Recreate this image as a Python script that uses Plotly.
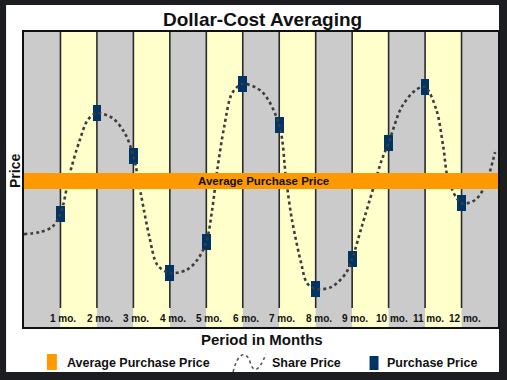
import plotly.graph_objects as go

# ---------------- data ----------------
months = list(range(1, 13))
month_labels = ["1 mo.", "2 mo.", "3 mo.", "4 mo.", "5 mo.", "6 mo.",
                "7 mo.", "8 mo.", "9 mo.", "10 mo.", "11 mo.", "12 mo."]
purchase_prices = [38.3, 72.5, 58.0, 18.3, 28.8, 82.4, 68.5, 12.9, 23.1, 62.4, 81.4, 42.0]
average_price = 49.5
share_x = [0.0, 0.44, 0.77, 1.0, 1.26, 1.53, 1.75, 2.0, 2.43, 2.76, 3.0, 3.22, 3.44, 3.66,
           4.0, 4.45, 4.75, 5.0, 5.16, 5.3, 5.49, 5.71, 6.0, 6.53, 7.0, 7.19, 7.35, 7.6,
           7.76, 8.0, 8.44, 8.83, 9.0, 9.26, 9.59, 9.81, 10.0, 10.36, 10.74, 11.0, 11.31,
           11.5, 11.64, 12.0, 12.38, 12.65, 12.92]
share_y = [31.5, 32.2, 33.9, 38.3, 52.2, 63.4, 70.2, 72.5, 70.8, 65.8, 58.0, 44.1, 30.5, 21.0,
           18.3, 19.3, 22.7, 28.8, 39.7, 53.2, 67.8, 79.3, 82.4, 79.7, 68.5, 49.8, 36.3, 21.7,
           14.9, 12.9, 13.6, 18.3, 23.1, 33.9, 47.5, 56.6, 62.4, 74.6, 80.3, 81.4, 73.6,
           61.0, 49.8, 42.0, 43.1, 48.1, 59.3]
n_columns = 13

# ---------------- style ----------------
W, H = 507, 380
ML, MR, MT, MB = 24, 7, 32, 53
PW, PH = W - ML - MR, H - MT - MB
FONT = "Liberation Sans"
ORANGE = "#ff9900"
NAVY = "#003366"
GRAY = "#cbcbcb"
YELLOW = "#ffffcc"
DARK = "#1b1d20"
Y_MAX = 100.0
MARK_W = 0.24
MARK_H = 5.2


def px(x):
    return (x - ML) / PW


def py(y):
    return (H - MB - y) / PH


fig = go.Figure()

# share price curve (dotted)
fig.add_trace(go.Scatter(
    x=share_x, y=share_y, mode="lines",
    line=dict(color="#3c3c3c", width=2.6, dash="dot", shape="spline", smoothing=0.9),
    hoverinfo="skip", showlegend=False, name="Share Price"))

# average purchase price band
fig.add_trace(go.Scatter(
    x=[0, n_columns], y=[average_price, average_price], mode="lines",
    line=dict(color=ORANGE, width=16), showlegend=False, name="Average Purchase Price"))

# purchase price markers
fig.add_trace(go.Bar(
    x=months, y=[MARK_H] * len(months),
    base=[p - MARK_H / 2 for p in purchase_prices],
    width=MARK_W, marker=dict(color=NAVY, line=dict(width=0)),
    showlegend=False, name="Purchase Price"))

shapes = []
# card
shapes.append(dict(type="rect", xref="paper", yref="paper",
                   x0=px(6), x1=px(501), y0=py(372), y1=py(5),
                   fillcolor="white", line=dict(width=0), layer="below"))
# alternating columns
for i in range(n_columns):
    shapes.append(dict(type="rect", xref="x", yref="paper", x0=i, x1=i + 1, y0=0, y1=1,
                       fillcolor=GRAY if i % 2 == 0 else YELLOW,
                       line=dict(width=0), layer="below"))
# month divider lines
for m in months:
    shapes.append(dict(type="line", xref="x", yref="paper", x0=m, x1=m,
                       y0=py(308), y1=1, line=dict(color="#2a2a2a", width=1.6),
                       layer="below"))
# legend swatches
shapes.append(dict(type="rect", xref="paper", yref="paper",
                   x0=px(47), x1=px(57), y0=py(370), y1=py(354),
                   fillcolor=ORANGE, line=dict(width=0)))
shapes.append(dict(type="rect", xref="paper", yref="paper",
                   x0=px(371), x1=px(380), y0=py(370), y1=py(356),
                   fillcolor=NAVY, line=dict(width=0)))
path = "M {},{} C {},{} {},{} {},{} S {},{} {},{}".format(
    px(234), py(372), px(239), py(350), px(248), py(352), px(251), py(362),
    px(259), py(374), px(267), py(354))
shapes.append(dict(type="path", xref="paper", yref="paper", path=path,
                   line=dict(color="#555555", width=1.6, dash="dot")))

annotations = []
annotations.append(dict(text="<b>Dollar-Cost Averaging</b>", xref="paper", yref="paper",
                        x=px(264), y=py(19), showarrow=False, xanchor="center",
                        yanchor="middle", font=dict(family=FONT, size=19, color="#111")))
annotations.append(dict(text="<b>Average Purchase Price</b>", xref="x", yref="y",
                        x=n_columns / 2 + 0.08, y=average_price, showarrow=False,
                        xanchor="center", yanchor="middle",
                        font=dict(family=FONT, size=11.5, color="#111")))
for m, lab in zip(months, month_labels):
    annotations.append(dict(text="<b>" + lab + "</b>", xref="x", yref="paper",
                            x=m, y=py(318), xshift=3, showarrow=False,
                            xanchor="center", yanchor="middle",
                            font=dict(family=FONT, size=10, color="#111")))
annotations.append(dict(text="<b>Period in Months</b>", xref="paper", yref="paper",
                        x=px(263), y=py(339), showarrow=False, xanchor="center",
                        yanchor="middle", font=dict(family=FONT, size=15, color="#111")))
annotations.append(dict(text="<b>Price</b>", xref="paper", yref="paper",
                        x=px(15), y=py(171), showarrow=False, xanchor="center",
                        yanchor="middle", textangle=-90,
                        font=dict(family=FONT, size=14, color="#111")))
for txt, x0 in [("Average Purchase Price", 65), ("Share Price", 271), ("Purchase Price", 387)]:
    annotations.append(dict(text="<b>" + txt + "</b>", xref="paper", yref="paper",
                            x=px(x0), y=py(363), showarrow=False, xanchor="left",
                            yanchor="middle",
                            font=dict(family=FONT, size=12.5, color="#111")))

fig.update_layout(
    width=W, height=H, margin=dict(l=ML, r=MR, t=MT, b=MB),
    paper_bgcolor=DARK, plot_bgcolor=GRAY,
    shapes=shapes, annotations=annotations, showlegend=False,
    xaxis=dict(range=[0, n_columns], showgrid=False, zeroline=False, showticklabels=False,
               ticks="", showline=True, mirror=True, linecolor="#111", linewidth=2,
               fixedrange=True),
    yaxis=dict(range=[0, Y_MAX], showgrid=False, zeroline=False, showticklabels=False,
               ticks="", showline=True, mirror=True, linecolor="#111", linewidth=2,
               fixedrange=True),
    bargap=0,
)

fig.write_html(
    "out.html",
    config={"displayModeBar": False},
    post_script="document.body.style.margin='0';document.body.style.padding='0';"
                "document.body.style.background='" + DARK + "';"
                "document.body.style.overflow='hidden';",
)
